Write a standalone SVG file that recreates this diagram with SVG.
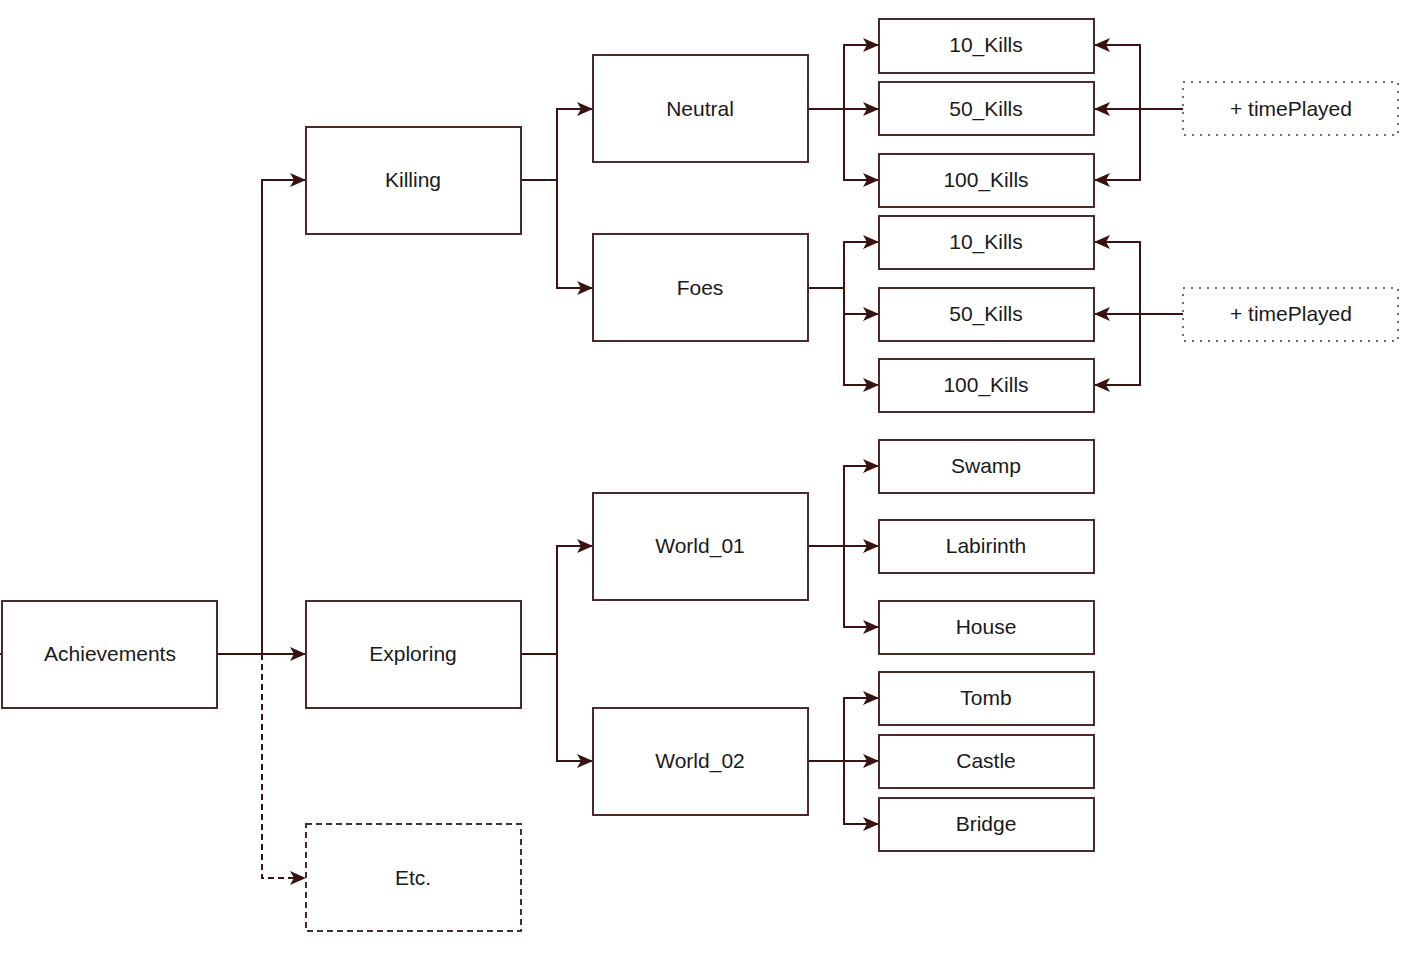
<svg xmlns="http://www.w3.org/2000/svg" width="1423" height="955" viewBox="0 0 1423 955">
<style>
.box{fill:#fff;stroke:#4a2a2a;stroke-width:2}
.dash{stroke-dasharray:6 4}
.dot{stroke-dasharray:2 6;stroke:#7a6a6a}
.lbl{font-family:"Liberation Sans",Arial,sans-serif;font-size:21px;fill:#1a1a1a;text-anchor:middle;dominant-baseline:central}
.c{fill:none;stroke:#3a1212;stroke-width:2}
</style>
<defs>
<marker id="ah" markerWidth="18" markerHeight="16" refX="15" refY="7" orient="auto" markerUnits="userSpaceOnUse" overflow="visible">
<path d="M0,0 L16,7 L0,14 L4,7 Z" fill="#3a1212"/>
</marker>
</defs>
<rect width="1423" height="955" fill="#fff"/>
<g id="connectors">
<line class="c" x1="0" y1="654" x2="2" y2="654"/>
<path class="c" d="M217,654 H262 V180 H305" marker-end="url(#ah)"/>
<path class="c" d="M217,654 H305" marker-end="url(#ah)"/>
<path class="c dash" d="M262,654 V878 H305" marker-end="url(#ah)"/>
<path class="c" d="M521,180 H557 V109 H592" marker-end="url(#ah)"/>
<path class="c" d="M557,180 V288 H592" marker-end="url(#ah)"/>
<path class="c" d="M521,654 H557 V546 H592" marker-end="url(#ah)"/>
<path class="c" d="M557,654 V761 H592" marker-end="url(#ah)"/>
<path class="c" d="M808,109 H844 V45 H878" marker-end="url(#ah)"/>
<path class="c" d="M844,109 H878" marker-end="url(#ah)"/>
<path class="c" d="M844,109 V180 H878" marker-end="url(#ah)"/>
<path class="c" d="M808,288 H844 V242 H878" marker-end="url(#ah)"/>
<path class="c" d="M844,288 V314 H878" marker-end="url(#ah)"/>
<path class="c" d="M844,314 V385 H878" marker-end="url(#ah)"/>
<path class="c" d="M808,546 H844 V466 H878" marker-end="url(#ah)"/>
<path class="c" d="M844,546 H878" marker-end="url(#ah)"/>
<path class="c" d="M844,546 V627 H878" marker-end="url(#ah)"/>
<path class="c" d="M808,761 H844 V698 H878" marker-end="url(#ah)"/>
<path class="c" d="M844,761 H878" marker-end="url(#ah)"/>
<path class="c" d="M844,761 V824 H878" marker-end="url(#ah)"/>
<path class="c" d="M1183,109 H1095" marker-end="url(#ah)"/>
<path class="c" d="M1140,109 V45 H1095" marker-end="url(#ah)"/>
<path class="c" d="M1140,109 V180 H1095" marker-end="url(#ah)"/>
<path class="c" d="M1183,314 H1095" marker-end="url(#ah)"/>
<path class="c" d="M1140,314 V242 H1095" marker-end="url(#ah)"/>
<path class="c" d="M1140,314 V385 H1095" marker-end="url(#ah)"/>
</g>
<g id="achievements"><rect class="box" x="2" y="601" width="215" height="107"/><text class="lbl" x="110" y="653">Achievements</text></g>
<g id="killing"><rect class="box" x="306" y="127" width="215" height="107"/><text class="lbl" x="413" y="179">Killing</text></g>
<g id="exploring"><rect class="box" x="306" y="601" width="215" height="107"/><text class="lbl" x="413" y="653">Exploring</text></g>
<g id="etc"><rect class="box dash" x="306" y="824" width="215" height="107"/><text class="lbl" x="413" y="877">Etc.</text></g>
<g id="neutral"><rect class="box" x="593" y="55" width="215" height="107"/><text class="lbl" x="700" y="108">Neutral</text></g>
<g id="foes"><rect class="box" x="593" y="234" width="215" height="107"/><text class="lbl" x="700" y="287">Foes</text></g>
<g id="world01"><rect class="box" x="593" y="493" width="215" height="107"/><text class="lbl" x="700" y="545">World_01</text></g>
<g id="world02"><rect class="box" x="593" y="708" width="215" height="107"/><text class="lbl" x="700" y="760">World_02</text></g>
<g id="n10"><rect class="box" x="879" y="19" width="215" height="54"/><text class="lbl" x="986" y="44">10_Kills</text></g>
<g id="n50"><rect class="box" x="879" y="82" width="215" height="53"/><text class="lbl" x="986" y="108">50_Kills</text></g>
<g id="n100"><rect class="box" x="879" y="154" width="215" height="53"/><text class="lbl" x="986" y="179">100_Kills</text></g>
<g id="f10"><rect class="box" x="879" y="216" width="215" height="53"/><text class="lbl" x="986" y="241">10_Kills</text></g>
<g id="f50"><rect class="box" x="879" y="288" width="215" height="53"/><text class="lbl" x="986" y="313">50_Kills</text></g>
<g id="f100"><rect class="box" x="879" y="359" width="215" height="53"/><text class="lbl" x="986" y="384">100_Kills</text></g>
<g id="swamp"><rect class="box" x="879" y="440" width="215" height="53"/><text class="lbl" x="986" y="465">Swamp</text></g>
<g id="labirinth"><rect class="box" x="879" y="520" width="215" height="53"/><text class="lbl" x="986" y="545">Labirinth</text></g>
<g id="house"><rect class="box" x="879" y="601" width="215" height="53"/><text class="lbl" x="986" y="626">House</text></g>
<g id="tomb"><rect class="box" x="879" y="672" width="215" height="53"/><text class="lbl" x="986" y="697">Tomb</text></g>
<g id="castle"><rect class="box" x="879" y="735" width="215" height="53"/><text class="lbl" x="986" y="760">Castle</text></g>
<g id="bridge"><rect class="box" x="879" y="798" width="215" height="53"/><text class="lbl" x="986" y="823">Bridge</text></g>
<g id="tp1"><rect class="box dot" x="1183" y="82" width="215" height="53"/><text class="lbl" x="1291" y="108">+ timePlayed</text></g>
<g id="tp2"><rect class="box dot" x="1183" y="288" width="215" height="53"/><text class="lbl" x="1291" y="313">+ timePlayed</text></g>
</svg>
